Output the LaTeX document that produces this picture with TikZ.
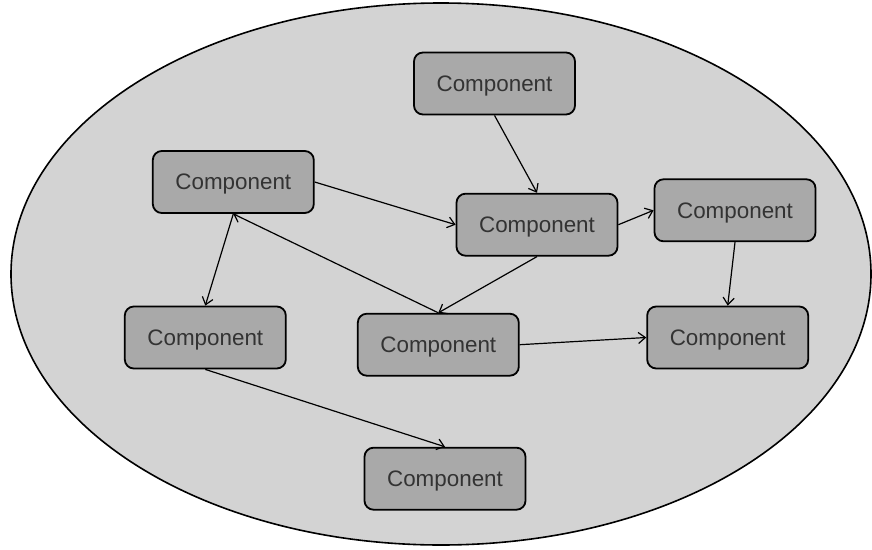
\documentclass[tikz,border=0pt]{standalone}
\usepackage{fontspec}
\setmainfont{Liberation Sans}
\usetikzlibrary{arrows.meta,shapes.geometric}
\definecolor{shell}{HTML}{D3D3D3}
\definecolor{boxfill}{HTML}{A9A9A9}
\definecolor{labeltext}{HTML}{333333}
\tikzset{
  comp/.style={draw=black, line width=1.8pt, fill=boxfill, rounded corners=9pt,
    minimum width=161pt, minimum height=62pt, inner sep=0pt, text depth=0pt,
    font=\fontsize{22.4}{26}\selectfont, text=labeltext},
  link/.style={draw=black, line width=1.2pt,
    -{Straight Barb[length=7pt,width=11pt,line width=1.2pt]}}
}
\begin{document}
\begin{tikzpicture}[x=1pt,y=-1pt]
  \useasboundingbox (0,0) rectangle (872,549);
  % enclosing system boundary
  \node[draw=black, line width=1.6pt, fill=shell, ellipse, minimum width=860pt,
        minimum height=542pt, inner sep=0pt] (sys) at (441,274) {};
  % components
  \node[comp] (top)   at (494.5,83.5)  {Component};
  \node[comp] (ltop)  at (233.3,182)   {Component};
  \node[comp] (mid)   at (537,224.7)   {Component};
  \node[comp] (rtop)  at (735,210.3)   {Component};
  \node[comp] (lmid)  at (205.3,337.5) {Component};
  \node[comp] (cmid)  at (438.3,344.7) {Component};
  \node[comp] (rmid)  at (727.7,337.5) {Component};
  \node[comp] (bot)   at (445,478.7)   {Component};
  % dependencies
  \draw[link] (top.south)  -- (mid.north);
  \draw[link] (ltop.east)  -- (mid.west);
  \draw[link] (mid.east)   -- (rtop.west);
  \draw[link] (ltop.south) -- (lmid.north);
  \draw[link] (cmid.north) -- (ltop.south);
  \draw[link] (mid.south)  -- (cmid.north);
  \draw[link] (rtop.south) -- (rmid.north);
  \draw[link] (cmid.east)  -- (rmid.west);
  \draw[link] (lmid.south) -- (bot.north);
\end{tikzpicture}
\end{document}
